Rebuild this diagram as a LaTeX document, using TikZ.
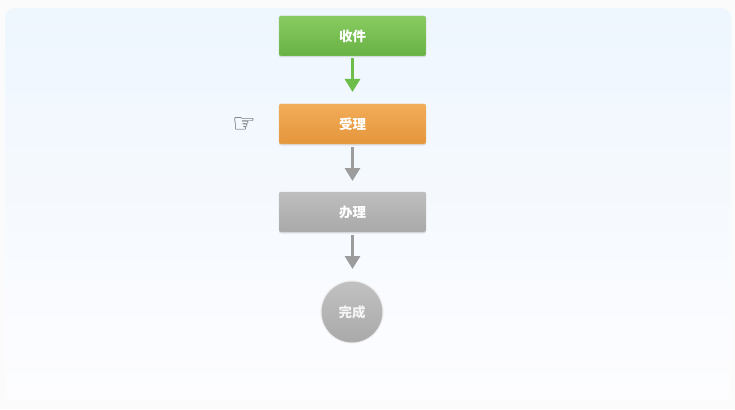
\documentclass[tikz,border=0pt]{standalone}
\usepackage{fontspec}
\newfontfamily\cjk{Noto Sans CJK SC}
\newfontfamily\symf{DejaVu Sans}
\usetikzlibrary{arrows.meta,shadows}
\definecolor{pagebg}{HTML}{FBFBFB}
\definecolor{paneltop}{HTML}{EEF6FE}
\definecolor{panelbot}{HTML}{FDFDFF}
\definecolor{gtop}{HTML}{88CB61}
\definecolor{gbot}{HTML}{68B244}
\definecolor{otop}{HTML}{F3AC58}
\definecolor{obot}{HTML}{E4963B}
\definecolor{htop}{HTML}{BEBEBE}
\definecolor{hbot}{HTML}{A9A9A9}
\definecolor{garrow}{HTML}{6DBD4A}
\definecolor{harrow}{HTML}{9C9C9C}
\tikzset{
  stepbox/.style={rectangle, rounded corners=2pt, minimum width=147pt, minimum height=40pt,
    inner sep=0pt, text=white, font=\cjk\bfseries\fontsize{13.5}{15}\selectfont,
    drop shadow={shadow xshift=0pt, shadow yshift=-1.5pt, opacity=0.18}},
  greenbox/.style={stepbox, top color=gtop, bottom color=gbot, draw=gbot!90!black!60},
  orangebox/.style={stepbox, top color=otop, bottom color=obot, draw=obot!90!black!60},
  greybox/.style={stepbox, top color=htop, bottom color=hbot, draw=hbot!90!black!60},
  endcircle/.style={circle, minimum size=62pt, inner sep=0pt, top color=htop!95!white, bottom color=hbot,
    draw=white!85!gray, line width=1pt, text=white!92!gray, font=\cjk\bfseries\fontsize{13.5}{15}\selectfont},
  flowarrow/.style={line width=3pt, -{Triangle[length=13pt,width=15pt]}},
}
\begin{document}
\begin{tikzpicture}[x=1pt,y=-1pt]
\useasboundingbox (0,0) rectangle (735,409);
\fill[pagebg] (0,0) rectangle (735,409);
\shade[top color=paneltop, bottom color=panelbot, rounded corners=10pt] (5,8) rectangle (731,400);
\fill[white, opacity=0.3] (5,375) rectangle (731,400);
\node[greenbox] (a) at (352.5,36) {收件};
\node[orangebox] (b) at (352.5,124) {受理};
\node[greybox] (c) at (352.5,212) {办理};
\node[endcircle] (d) at (352,312) {完成};
\node[font=\symf\fontsize{26}{26}\selectfont, text=black!75, inner sep=0pt] (hand) at (244,125) {☞};
\draw[flowarrow, draw=garrow, fill=garrow] ([yshift=-2pt]a.south) -- ([yshift=-2pt]a.south |- 0,90);
\draw[flowarrow, draw=harrow, fill=harrow!80!black] ([yshift=-3pt]b.south) -- ([yshift=-3pt]b.south |- 0,178) coordinate (e1);
\draw[flowarrow, draw=harrow, fill=harrow!80!black] ([yshift=-3pt]c.south) -- ([yshift=-3pt]c.south |- 0,266) coordinate (e2);
\end{tikzpicture}
\end{document}
